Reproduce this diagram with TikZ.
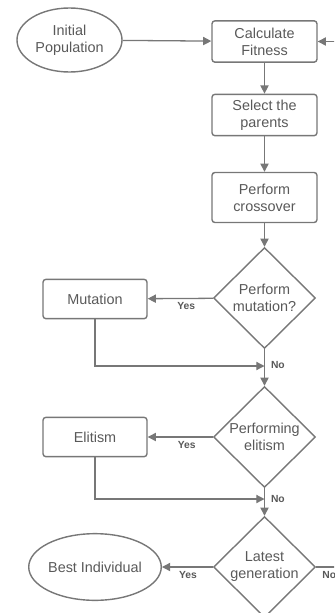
\documentclass[tikz,border=0pt]{standalone}
\usepackage{fontspec}
\setmainfont{Liberation Sans}
\usetikzlibrary{shapes.geometric, arrows.meta, positioning}
\definecolor{linegray}{HTML}{777777}
\definecolor{textgray}{HTML}{595959}

\begin{document}
\begin{tikzpicture}[
    x=0.03cm, y=-0.03cm,
    box/.style={draw=linegray, rounded corners=2.5pt, line width=1.2pt, minimum width=3.15cm, minimum height=1.24cm, align=center, text=textgray, font=\fontsize{12.3}{14.5}\selectfont},
    oval/.style={draw=linegray, ellipse, line width=1.2pt, align=center, inner sep=0pt, text=textgray, font=\fontsize{12.3}{14.5}\selectfont},
    decision/.style={draw=linegray, diamond, aspect=1, line width=1.2pt, minimum width=3.06cm, minimum height=3.03cm, inner sep=0pt, align=center, text=textgray, font=\fontsize{12.3}{14.5}\selectfont},
    arrow/.style={-{Triangle[length=7pt, width=7pt]}, draw=linegray, line width=1.1pt},
    lbl/.style={text=textgray, font=\fontsize{8.8}{10}\selectfont\bfseries, inner sep=1pt}
]
    \useasboundingbox (0,0) rectangle (334,613);
    \clip (0,0) rectangle (334,613);

    \node[oval, minimum width=3.15cm, minimum height=1.92cm] at (69.5,40) (init) {Initial\\Population};
    \node[box] at (264.5,41.5) (fit) {Calculate\\Fitness};
    \node[box] at (264.5,115) (sel) {Select the\\parents};
    \node[box, minimum height=1.5cm] at (264.5,197.5) (cross) {Perform\\crossover};
    \node[decision] at (264.5,298) (mutq) {Perform\\mutation?};
    \node[box, minimum width=3.12cm, minimum height=1.18cm] at (95,299) (mut) {Mutation};
    \node[decision] at (264.5,437) (eliq) {Performing\\elitism};
    \node[box, minimum width=3.12cm, minimum height=1.18cm] at (95,437) (eli) {Elitism};
    \node[decision] at (264.5,567) (genq) {Latest\\generation};
    \node[oval, minimum width=3.9cm, minimum height=2.0cm] at (95,567) (best) {Best Individual};

    \coordinate (mjoin) at (264.5,366);
    \coordinate (ejoin) at (264.5,499);
    \coordinate (loop) at (360,567);

    \draw[arrow] (init) -- (fit);
    \draw[arrow] (fit) -- (sel);
    \draw[arrow] (sel) -- (cross);
    \draw[arrow] (cross) -- (mutq);
    \draw[arrow] (mutq) -- node[lbl, pos=0.41, below=2pt] {Yes} (mut);
    \draw[arrow] (mutq) -- node[lbl, pos=0.42, right=4pt] {No} (eliq);
    \draw[arrow] (mut.south) |- (mjoin);
    \draw[arrow] (eliq) -- node[lbl, pos=0.4, below=2pt] {Yes} (eli);
    \draw[arrow] (eliq) -- node[lbl, pos=0.38, right=4pt] {No} (genq);
    \draw[arrow] (eli.south) |- (ejoin);
    \draw[arrow] (genq) -- node[lbl, pos=0.49, below=2pt] {Yes} (best);
    \draw[arrow] (genq.east) -- node[lbl, pos=0.3, below=2pt] {No} (loop) |- (fit.east);
\end{tikzpicture}
\end{document}
